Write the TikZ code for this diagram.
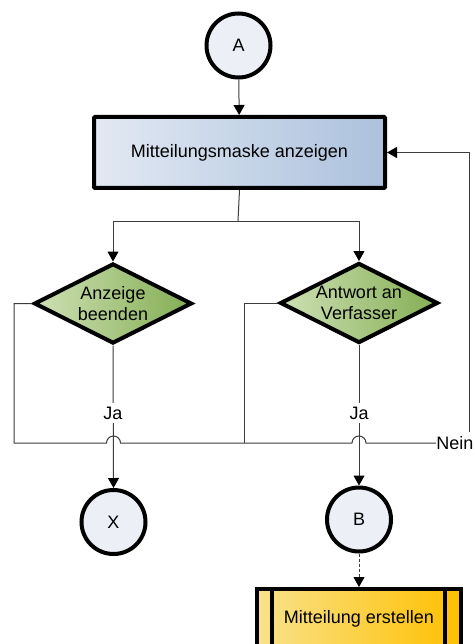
\documentclass[tikz,border=0pt]{standalone}
\usepackage{fontspec}
\setmainfont{Liberation Sans}
\usetikzlibrary{shapes.geometric,arrows.meta,calc}

\definecolor{circfill}{RGB}{236,239,245}
\definecolor{boxl}{RGB}{226,233,243}
\definecolor{boxr}{RGB}{172,193,221}
\definecolor{diaml}{RGB}{206,224,180}
\definecolor{diamr}{RGB}{132,174,84}
\definecolor{yell}{RGB}{248,226,140}
\definecolor{yelr}{RGB}{255,192,0}
\definecolor{conn}{RGB}{60,60,60}

\tikzset{
  txt/.style={font=\fontsize{18}{21}\selectfont, text=black},
  connector/.style={circle, draw=black, line width=4pt, fill=circfill,
    minimum size=64pt, inner sep=0pt, txt},
  process/.style={rectangle, draw=black, line width=4pt, rounded corners=1pt,
    left color=boxl, right color=boxr, minimum width=291pt,
    minimum height=71pt, inner sep=0pt, txt},
  decision/.style={diamond, aspect=2, draw=black, line width=4pt,
    left color=diaml, right color=diamr, minimum width=158pt,
    minimum height=80pt, inner sep=0pt, align=center, txt},
  subproc/.style={rectangle, draw=black, line width=4pt,
    left color=yell, right color=yelr, minimum width=204pt,
    minimum height=60pt, inner sep=0pt, txt},
  flow/.style={draw=conn, line width=1pt},
  arr/.style={flow, -{Triangle[length=10pt,width=11pt]}, arrows={[color=black]}},
  lab/.style={fill=white, inner xsep=1pt, inner ysep=4pt, txt},
}

\begin{document}
\begin{tikzpicture}[x=1pt,y=1pt]
  \clip (0,0) rectangle (474,-644);
  \fill[white] (0,0) rectangle (474,-644);

  % shapes
  \node[connector] (A) at (238.5,-45.5) {A};
  \node[process] (mask) at (239.5,-152.5) {Mitteilungsmaske anzeigen};
  \node[decision] (d1) at (113,-303.5) {Anzeige\\beenden};
  \node[decision] (d2) at (359,-303) {Antwort an\\Verfasser};
  \node[connector] (X) at (113.5,-522) {X};
  \node[connector] (B) at (359,-519.5) {B};
  \node[subproc] (sub) at (359,-619) {\raisebox{4pt}{Mitteilung erstellen}};
  \draw[line width=4pt] ($(sub.north west)+(17,0)$) -- ($(sub.south west)+(17,0)$);
  \draw[line width=4pt] ($(sub.north east)+(-18,0)$) -- ($(sub.south east)+(-18,0)$);

  % corner points of the return loop
  \coordinate (cL1) at (14,-303.5);
  \coordinate (cL) at (14,-443);
  \coordinate (cM) at (244,-443);
  \coordinate (cR) at (469,-443);

  % main flow
  \draw[arr] (A) -- (mask);
  \draw[flow] (mask.south) -- (238,-221) coordinate (sp);
  \draw[arr] (sp) -| (d1.north);
  \draw[arr] (sp) -| (d2.north);
  \draw[arr] (d1.south) -- (X.north);
  \draw[arr] (d2.south) -- (B.north);
  \draw[arr, dashed, dash pattern=on 3pt off 2pt] (B.south) -- (sub.north);

  % return loop with line jumps
  \draw[flow] (d1.west) -- (cL1) -- (cL)
    -- ($(X.center |- cL)+(-7,0)$) arc[start angle=180, end angle=0, radius=7pt]
    -- ($(B.center |- cL)+(-7,0)$) arc[start angle=180, end angle=0, radius=7pt]
    -- (cR);
  \draw[arr] (cR) |- (mask.east);
  \draw[flow] (d2.west) -| (cM);

  % labels
  \node[lab] (ja1) at (113,-413) {Ja};
  \node[lab] (ja2) at (359,-413) {Ja};
  \node[lab, anchor=east, inner xsep=0.3pt] (nein) at (474,-443) {Nein};
\end{tikzpicture}
\end{document}
